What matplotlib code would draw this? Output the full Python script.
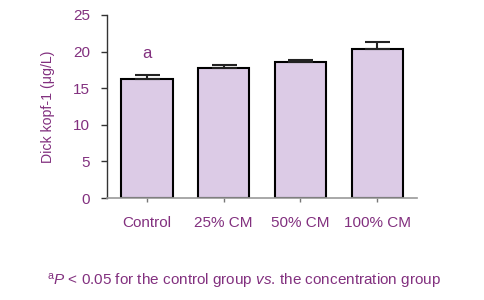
import matplotlib
matplotlib.use("Agg")
import matplotlib.pyplot as plt

categories = ["Control", "25% CM", "50% CM", "100% CM"]
values = [16.2, 17.8, 18.6, 20.4]
errors = [0.6, 0.4, 0.3, 0.9]
y_ticks = [0, 5, 10, 15, 20, 25]

purple = "#82307f"
fill = "#dccbe6"
plt.rcParams['font.family'] = ['Liberation Sans', 'DejaVu Sans']
plt.rcParams['mathtext.fontset'] = 'custom'
plt.rcParams['mathtext.rm'] = 'Liberation Sans'
plt.rcParams['mathtext.it'] = 'Liberation Sans:italic'

fig = plt.figure(figsize=(4.84, 3.0), dpi=100)
ax = fig.add_axes([0.221, 0.34, 0.641, 0.61])
x = list(range(len(categories)))
ax.bar(x, values, width=0.67, color=fill, edgecolor="black", linewidth=1.5, zorder=2)
ax.errorbar(x, values, yerr=[[0]*len(errors), errors], fmt="none", ecolor="#222222",
            elinewidth=1.5, capsize=9, capthick=1.5, zorder=3)
ax.text(0, 19.7, "a", color=purple, fontsize=12, ha="center", va="center")

ax.set_xlim(-0.52, 3.52)
ax.set_ylim(0, 25)
ax.set_yticks(y_ticks)
ax.set_xticks(x)
ax.set_xticklabels(categories)
for s in ["top", "right"]:
    ax.spines[s].set_visible(False)
ax.spines["left"].set_color("#333333")
ax.spines["left"].set_linewidth(1.0)
ax.spines["bottom"].set_color("#999999")
ax.spines["bottom"].set_linewidth(1.2)
ax.tick_params(axis="y", colors="#333333", labelcolor=purple, labelsize=11, length=4, width=1.0, pad=8)
ax.tick_params(axis="x", colors="#777777", labelcolor=purple, labelsize=11, length=3, width=1.0, pad=10)
ax.set_ylabel("Dick kopf-1 (μg/L)", color=purple, fontsize=10.2, labelpad=13)

fig.text(0.505, 0.062, r"$^{\mathrm{a}}$$\it{P}$ < 0.05 for the control group $\it{vs}$. the concentration group",
         color=purple, fontsize=11, ha="center", va="center")
fig.savefig("out.png", dpi=100)
